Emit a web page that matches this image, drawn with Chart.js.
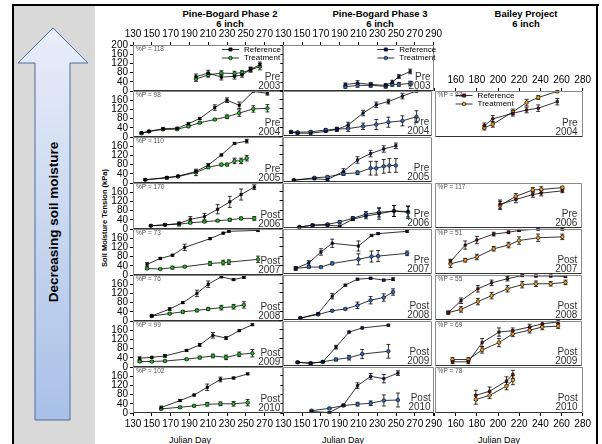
<!DOCTYPE html>
<html>
<head>
<meta charset="utf-8">
<script src="https://cdn.jsdelivr.net/npm/chart.js@4.4.0/dist/chart.umd.min.js"></script>
<style>
  body { margin: 0; background: #fff; width: 602px; height: 444px; overflow: hidden; position: relative; font-family: "Liberation Sans", Arial, sans-serif; }
  canvas { position: absolute; }
  svg { position: absolute; left: 0; top: 0; }
</style>
</head>
<body>
<svg width="602" height="444">
  <defs>
    <linearGradient id="arrowFill" x1="0" y1="0" x2="0" y2="1">
      <stop offset="0" stop-color="#e8eef9"/>
      <stop offset="1" stop-color="#a9c0e7"/>
    </linearGradient>
  </defs>
  <rect x="13" y="5" width="82" height="439" fill="#d9d9d9"/>
  <polygon points="53,28 88,63 70,63 70,420 35,420 35,63 18,63" fill="url(#arrowFill)" stroke="#4d6d9c" stroke-width="1"/>
  <text transform="translate(58,222) rotate(-90)" text-anchor="middle" font-weight="bold" font-size="13.5" font-family="Liberation Sans, Arial">Decreasing soil moisture</text>
  <text transform="translate(107,218) rotate(-90)" text-anchor="middle" font-weight="bold" font-size="7.5" font-family="Liberation Sans, Arial">Soil Moisture Tension (kPa)</text>
  <rect x="12" y="4" width="587" height="2" fill="#000"/>
  <rect x="12" y="4" width="2" height="440" fill="#000"/>
  <rect x="596" y="4" width="2" height="440" fill="#000"/>
  <g font-family="Liberation Sans, Arial" font-weight="bold" font-size="9.5" text-anchor="middle" dominant-baseline="central">
    <text x="230" y="13">Pine-Bogard Phase 2</text>
    <text x="230" y="23">6 inch</text>
    <text x="380" y="13">Pine-Bogard Phase 3</text>
    <text x="380" y="23">6 inch</text>
    <text x="526" y="13">Bailey Project</text>
    <text x="526" y="23">6 inch</text>
  </g>
  <g font-family="Liberation Sans, Arial" font-size="9" text-anchor="middle" dominant-baseline="central">
    <text x="190" y="440">Julian Day</text>
    <text x="343" y="440">Julian Day</text>
    <text x="499" y="440">Julian Day</text>
  </g>
</svg>
<script>
// tick labels
const xTicksPB = [130, 150, 170, 190, 210, 230, 250, 270, 290];
const xTicksBailey = [140, 160, 180, 200, 220, 240, 260, 280];
const yTicks = [0, 40, 80, 120, 160, 200];

// Pine-Bogard Phase 2 (Julian day, kPa, error)
const p2_2003_day = [197, 210, 224, 238, 246, 255, 265];
const p2_2003_ref = [62, 78, 60, 64, 70, 94, 114];
const p2_2003_trt = [52, 70, 78, 76, 80, 92, 106];
const p2_2003_refErr = [12, 12, 12, 12, 10, 10, 12];
const p2_2003_trtErr = [10, 10, 10, 10, 8, 10, 14];

const p2_2004_day = [139, 147, 162, 177, 189, 201, 217, 230, 243, 258, 273];
const p2_2004_ref = [18, 25, 36, 38, 58, 80, 128, 160, 138, 198, 190];
const p2_2004_trt = [16, 24, 33, 34, 46, 62, 76, 88, 104, 122, 125];
const p2_2004_refErr = [4, 4, 4, 4, 4, 4, 12, 10, 14, 0, 8];
const p2_2004_trtErr = [4, 4, 4, 4, 4, 4, 4, 8, 14, 14, 16];

const p2_2005_day = [143, 166, 178, 197, 210, 224, 230, 238, 245, 251];
const p2_2005_ref = [14, 24, 30, 50, 78, 122, null, 172, null, 182];
const p2_2005_trt = [14, 22, 28, 46, 68, 80, 80, 96, 96, 108];
const p2_2005_refErr = [3, 4, 4, 6, 6, 4, 0, 4, 0, 8];
const p2_2005_trtErr = [3, 4, 4, 14, 4, 6, 6, 12, 12, 12];

const p2_2006_day = [149, 164, 179, 191, 206, 220, 233, 245, 259];
const p2_2006_ref = [14, 18, 24, 42, 54, 86, 118, 150, 182];
const p2_2006_trt = [14, 18, 21, 27, 32, 36, 40, 46, 46];
const p2_2006_refErr = [3, 4, 6, 12, 14, 20, 24, 24, 10];
const p2_2006_trtErr = [3, 3, 8, 4, 4, 4, 6, 6, 8];

const p2_2007_day = [145, 159, 172, 185, 212, 226, 232, 263];
const p2_2007_ref = [46, 72, 86, 120, 158, 182, 190, 194];
const p2_2007_trt = [28, 26, 32, 36, 50, 54, 56, 68];
const p2_2007_refErr = [8, 4, 4, 14, 4, 4, 4, 4];
const p2_2007_trtErr = [4, 3, 6, 4, 8, 10, 10, 14];

const p2_2008_day = [150, 169, 183, 198, 210, 224, 237, 248];
const p2_2008_ref = [22, 52, 80, 120, 160, 192, 180, 190];
const p2_2008_trt = [22, 32, 40, 46, 52, 58, 62, 70];
const p2_2008_refErr = [4, 6, 4, 14, 14, 4, 4, 4];
const p2_2008_trtErr = [4, 4, 6, 6, 6, 10, 10, 14];

const p2_2009_day = [137, 150, 164, 187, 201, 215, 229, 243, 257];
const p2_2009_ref = [38, 42, 48, 72, 96, 138, 126, 158, 184];
const p2_2009_trt = [24, 24, 26, 34, 41, 48, 42, 55, 60];
const p2_2009_refErr = [6, 4, 6, 4, 6, 12, 6, 4, 4];
const p2_2009_trtErr = [4, 4, 4, 4, 6, 8, 10, 10, 16];

const p2_2010_day = [160, 180, 195, 209, 223, 237, 252];
const p2_2010_ref = [24, 54, 78, 112, 146, 152, 170];
const p2_2010_trt = [18, 25, 31, 38, 40, 40, 45];
const p2_2010_refErr = [6, 4, 4, 14, 10, 4, 4];
const p2_2010_trtErr = [4, 4, 4, 8, 8, 10, 14];

// Pine-Bogard Phase 3
const p3_2003_day = [196, 209, 223, 239, 246, 253, 265];
const p3_2003_ref = [30, 36, 30, 26, 40, 64, 86];
const p3_2003_trt = [20, 26, 26, 22, 30, 30, 34];
const p3_2003_refErr = [6, 10, 8, 8, 8, 8, 10];
const p3_2003_trtErr = [6, 8, 8, 8, 8, 8, 10];

const p3_2004_day = [139, 146, 160, 176, 188, 200, 216, 230, 243, 258, 273];
const p3_2004_ref = [18, 14, 14, 22, 30, 50, 102, 138, 152, 176, 198];
const p3_2004_trt = [20, 18, 20, 28, 32, 34, 44, 52, 62, 68, 86];
const p3_2004_refErr = [4, 4, 4, 4, 8, 12, 12, 12, 10, 12, 4];
const p3_2004_trtErr = [4, 4, 4, 6, 8, 12, 14, 22, 22, 22, 26];

const p3_2005_day = [142, 164, 178, 195, 210, 224, 230, 238, 244, 251];
const p3_2005_ref = [10, 16, 12, 48, 98, 126, null, 146, null, 160];
const p3_2005_trt = [10, 20, 24, 38, 42, 62, 62, 70, 74, 74];
const p3_2005_refErr = [3, 4, 4, 12, 14, 14, 0, 14, 0, 12];
const p3_2005_trtErr = [3, 4, 4, 8, 8, 30, 30, 30, 30, 30];

const p3_2006_day = [148, 162, 178, 191, 205, 219, 233, 249, 264];
const p3_2006_ref = [6, 14, 14, 10, 40, 54, 64, 76, 74];
const p3_2006_trt = [6, 14, 18, 28, 44, 62, 70, 76, 70];
const p3_2006_refErr = [3, 4, 4, 4, 6, 12, 24, 24, 24];
const p3_2006_trtErr = [3, 4, 4, 6, 8, 12, 20, 24, 26];

const p3_2007_day = [144, 158, 171, 183, 211, 225, 232, 263];
const p3_2007_ref = [26, 50, 98, 136, 124, 170, 178, 188];
const p3_2007_trt = [26, 32, 32, 48, 66, 78, 80, 92];
const p3_2007_refErr = [8, 10, 14, 18, 22, 4, 4, 4];
const p3_2007_trtErr = [6, 4, 4, 6, 24, 24, 24, 10];

const p3_2008_day = [149, 168, 183, 197, 210, 224, 238, 248];
const p3_2008_ref = [10, 30, 106, 154, 180, 184, 176, 180];
const p3_2008_trt = [10, 26, 42, 50, 66, 88, 100, 124];
const p3_2008_refErr = [4, 4, 12, 4, 4, 4, 4, 6];
const p3_2008_trtErr = [4, 4, 4, 4, 14, 16, 16, 14];

const p3_2009_day = [146, 160, 173, 187, 201, 215, 243];
const p3_2009_ref = [18, 14, 20, 84, 150, 168, 180];
const p3_2009_trt = [18, 14, 20, 30, 38, 54, 66];
const p3_2009_refErr = [4, 4, 4, 8, 4, 4, 4];
const p3_2009_trtErr = [4, 4, 4, 6, 10, 20, 30];

const p3_2010_day = [160, 179, 194, 209, 223, 237, 252];
const p3_2010_ref = [6, 2, 34, 118, 158, 148, 172];
const p3_2010_trt = [10, 20, 32, 38, 42, 54, 56];
const p3_2010_refErr = [4, 4, 4, 12, 12, 18, 10];
const p3_2010_trtErr = [4, 4, 4, 8, 10, 24, 30];

// Bailey Project
const bl_2004_day = [187, 195, 214, 227, 238, 256];
const bl_2004_ref = [50, 80, 104, 118, 126, 154];
const bl_2004_trt = [42, 56, 110, 150, 172, 198];
const bl_2004_refErr = [12, 14, 12, 12, 14, 14];
const bl_2004_trtErr = [10, 12, 12, 14, 8, 4];

const bl_2006_day = [202, 217, 233, 241, 261];
const bl_2006_ref = [106, 126, 148, 154, 164];
const bl_2006_trt = [100, 140, 168, 170, 178];
const bl_2006_refErr = [18, 14, 12, 12, 8];
const bl_2006_trtErr = [18, 12, 10, 12, 6];

const bl_2007_day = [155, 169, 180, 196, 210, 220, 238, 261];
const bl_2007_ref = [56, 128, 150, 176, 184, 192, 198, 198];
const bl_2007_trt = [46, 62, 76, 112, 128, 148, 160, 164];
const bl_2007_refErr = [10, 18, 16, 8, 6, 4, 4, 4];
const bl_2007_trtErr = [16, 8, 12, 10, 12, 16, 16, 12];

const bl_2008_day = [153, 165, 181, 194, 209, 223, 236, 250, 264];
const bl_2008_ref = [34, 86, 138, 164, 182, 196, 194, 194, 192];
const bl_2008_trt = [34, 48, 82, 108, 138, 156, 160, 160, 166];
const bl_2008_refErr = [6, 12, 14, 12, 10, 4, 4, 4, 4];
const bl_2008_trtErr = [6, 12, 14, 14, 14, 14, 12, 10, 10];

const bl_2009_day = [157, 172, 185, 201, 214, 230, 242, 257];
const bl_2009_ref = [20, 20, 104, 150, 156, 172, 186, 194];
const bl_2009_trt = [30, 30, 72, 104, 142, 158, 172, 176];
const bl_2009_refErr = [8, 8, 18, 18, 12, 12, 10, 8];
const bl_2009_trtErr = [8, 8, 14, 18, 12, 12, 12, 10];

const bl_2010_day = [179, 192, 208, 214];
const bl_2010_ref = [76, 94, 138, 166];
const bl_2010_trt = [58, 76, 116, 142];
const bl_2010_refErr = [22, 18, 18, 18];
const bl_2010_trtErr = [20, 14, 16, 20];

const panels = [
  { col: 0, row: 0, day: p2_2003_day, ref: p2_2003_ref, trt: p2_2003_trt, refErr: p2_2003_refErr, trtErr: p2_2003_trtErr, pct: '118', period: 'Pre', year: '2003', legend: true, top: true },
  { col: 0, row: 1, day: p2_2004_day, ref: p2_2004_ref, trt: p2_2004_trt, refErr: p2_2004_refErr, trtErr: p2_2004_trtErr, pct: '98', period: 'Pre', year: '2004' },
  { col: 0, row: 2, day: p2_2005_day, ref: p2_2005_ref, trt: p2_2005_trt, refErr: p2_2005_refErr, trtErr: p2_2005_trtErr, pct: '110', period: 'Pre', year: '2005' },
  { col: 0, row: 3, day: p2_2006_day, ref: p2_2006_ref, trt: p2_2006_trt, refErr: p2_2006_refErr, trtErr: p2_2006_trtErr, pct: '170', period: 'Post', year: '2006' },
  { col: 0, row: 4, day: p2_2007_day, ref: p2_2007_ref, trt: p2_2007_trt, refErr: p2_2007_refErr, trtErr: p2_2007_trtErr, pct: '73', period: 'Post', year: '2007' },
  { col: 0, row: 5, day: p2_2008_day, ref: p2_2008_ref, trt: p2_2008_trt, refErr: p2_2008_refErr, trtErr: p2_2008_trtErr, pct: '76', period: 'Post', year: '2008' },
  { col: 0, row: 6, day: p2_2009_day, ref: p2_2009_ref, trt: p2_2009_trt, refErr: p2_2009_refErr, trtErr: p2_2009_trtErr, pct: '99', period: 'Post', year: '2009' },
  { col: 0, row: 7, day: p2_2010_day, ref: p2_2010_ref, trt: p2_2010_trt, refErr: p2_2010_refErr, trtErr: p2_2010_trtErr, pct: '102', period: 'Post', year: '2010' },

  { col: 1, row: 0, day: p3_2003_day, ref: p3_2003_ref, trt: p3_2003_trt, refErr: p3_2003_refErr, trtErr: p3_2003_trtErr, period: 'Pre', year: '2003', legend: true, top: true },
  { col: 1, row: 1, day: p3_2004_day, ref: p3_2004_ref, trt: p3_2004_trt, refErr: p3_2004_refErr, trtErr: p3_2004_trtErr, period: 'Pre', year: '2004' },
  { col: 1, row: 2, day: p3_2005_day, ref: p3_2005_ref, trt: p3_2005_trt, refErr: p3_2005_refErr, trtErr: p3_2005_trtErr, period: 'Pre', year: '2005' },
  { col: 1, row: 3, day: p3_2006_day, ref: p3_2006_ref, trt: p3_2006_trt, refErr: p3_2006_refErr, trtErr: p3_2006_trtErr, period: 'Pre', year: '2006' },
  { col: 1, row: 4, day: p3_2007_day, ref: p3_2007_ref, trt: p3_2007_trt, refErr: p3_2007_refErr, trtErr: p3_2007_trtErr, period: 'Pre', year: '2007' },
  { col: 1, row: 5, day: p3_2008_day, ref: p3_2008_ref, trt: p3_2008_trt, refErr: p3_2008_refErr, trtErr: p3_2008_trtErr, period: 'Post', year: '2008' },
  { col: 1, row: 6, day: p3_2009_day, ref: p3_2009_ref, trt: p3_2009_trt, refErr: p3_2009_refErr, trtErr: p3_2009_trtErr, period: 'Post', year: '2009' },
  { col: 1, row: 7, day: p3_2010_day, ref: p3_2010_ref, trt: p3_2010_trt, refErr: p3_2010_refErr, trtErr: p3_2010_trtErr, period: 'Post', year: '2010' },

  { col: 2, row: 1, day: bl_2004_day, ref: bl_2004_ref, trt: bl_2004_trt, refErr: bl_2004_refErr, trtErr: bl_2004_trtErr, pct: '93', period: 'Pre', year: '2004', legend: true, top: true },
  { col: 2, row: 3, day: bl_2006_day, ref: bl_2006_ref, trt: bl_2006_trt, refErr: bl_2006_refErr, trtErr: bl_2006_trtErr, pct: '117', period: 'Pre', year: '2006' },
  { col: 2, row: 4, day: bl_2007_day, ref: bl_2007_ref, trt: bl_2007_trt, refErr: bl_2007_refErr, trtErr: bl_2007_trtErr, pct: '51', period: 'Post', year: '2007' },
  { col: 2, row: 5, day: bl_2008_day, ref: bl_2008_ref, trt: bl_2008_trt, refErr: bl_2008_refErr, trtErr: bl_2008_trtErr, pct: '55', period: 'Post', year: '2008' },
  { col: 2, row: 6, day: bl_2009_day, ref: bl_2009_ref, trt: bl_2009_trt, refErr: bl_2009_refErr, trtErr: bl_2009_trtErr, pct: '69', period: 'Post', year: '2009' },
  { col: 2, row: 7, day: bl_2010_day, ref: bl_2010_ref, trt: bl_2010_trt, refErr: bl_2010_refErr, trtErr: bl_2010_trtErr, pct: '78', period: 'Post', year: '2010' }
];

// layout of the grid of panels
const colLeft = [133, 283, 435];
const colWidth = [150, 150, 148];
const rowTop0 = 45, rowStep = 46, rowH = 46;
const FONT = '"Liberation Sans", Arial, sans-serif';
const colStyle = [
  { ref: '#000000', trt: '#1fb81f', xTicks: xTicksPB, min: 130, max: 290, hide: [290], legendX: 89, yearPad: 3 },
  { ref: '#0b1760', trt: '#2d6cc6', xTicks: xTicksPB, min: 130, max: 290, hide: [], legendX: 94, yearPad: 3 },
  { ref: '#7a0a0a', trt: '#f49a1c', xTicks: xTicksBailey, min: 140, max: 280, hide: [140], legendX: 21, yearPad: 5 }
];

function pts(days, vals, errs) {
  const out = [];
  days.forEach((d, i) => {
    if (vals[i] !== null) out.push({ x: d, y: vals[i], e: errs[i] || 0 });
  });
  return out;
}

// vertical error bars, drawn under the markers
const errorBars = {
  id: 'errorBars',
  beforeDatasetsDraw(chart) {
    const ctx = chart.ctx, ys = chart.scales.y, a = chart.chartArea;
    ctx.save();
    ctx.beginPath();
    ctx.rect(a.left - 3, a.top - 1, a.right - a.left + 6, a.bottom - a.top + 2);
    ctx.clip();
    ctx.strokeStyle = '#000';
    ctx.lineWidth = 0.8;
    chart.data.datasets.forEach((ds, di) => {
      const meta = chart.getDatasetMeta(di);
      ds.data.forEach((p, i) => {
        if (!p.e) return;
        const x = meta.data[i].x;
        const y1 = ys.getPixelForValue(p.y - p.e);
        const y2 = ys.getPixelForValue(p.y + p.e);
        ctx.beginPath();
        ctx.moveTo(x, y1); ctx.lineTo(x, y2);
        ctx.moveTo(x - 2, y1); ctx.lineTo(x + 2, y1);
        ctx.moveTo(x - 2, y2); ctx.lineTo(x + 2, y2);
        ctx.stroke();
      });
    });
    ctx.restore();
  }
};

// panel frame, %P note, Pre/Post label and legend
const panelDeco = {
  id: 'panelDeco',
  afterDraw(chart, args, opts) {
    const ctx = chart.ctx, a = chart.chartArea;
    const L = Math.round(a.left) + 0.5, R = Math.round(a.right) - 0.5;
    const T = Math.round(a.top) + 0.5, B = Math.round(a.bottom) - 0.5;
    ctx.save();
    ctx.lineWidth = 1;
    ctx.strokeStyle = '#8a8a8a';
    ctx.beginPath();
    ctx.moveTo(L, B); ctx.lineTo(L, T); ctx.lineTo(R, T); ctx.lineTo(R, B);
    ctx.stroke();
    ctx.strokeStyle = '#333';
    ctx.beginPath();
    ctx.moveTo(L, B); ctx.lineTo(R, B);
    ctx.stroke();

    if (opts.pct) {
      ctx.fillStyle = '#555';
      ctx.font = '6.5px ' + FONT;
      ctx.textAlign = 'left';
      ctx.textBaseline = 'middle';
      ctx.fillText('%P = ' + opts.pct, a.left + 3, a.top + 4.5);
    }

    ctx.fillStyle = '#333';
    ctx.font = '10px ' + FONT;
    ctx.textAlign = 'right';
    ctx.textBaseline = 'middle';
    ctx.fillText(opts.period, a.right - opts.yearPad, a.top + 32);
    ctx.fillText(opts.year, a.right - opts.yearPad, a.top + 41);

    if (opts.legend) {
      chart.data.datasets.forEach((ds, i) => {
        const y = a.top + 4.5 + i * 8.5;
        const x0 = a.left + opts.legendX, x1 = x0 + 17, xm = (x0 + x1) / 2;
        ctx.strokeStyle = '#000';
        ctx.lineWidth = 0.8;
        ctx.beginPath();
        ctx.moveTo(x0, y); ctx.lineTo(x1, y);
        ctx.stroke();
        ctx.fillStyle = ds.pointBackgroundColor;
        ctx.lineWidth = 0.6;
        ctx.beginPath();
        if (ds.pointStyle === 'rect') ctx.rect(xm - 1.6, y - 1.6, 3.2, 3.2);
        else ctx.arc(xm, y, 1.8, 0, Math.PI * 2);
        ctx.fill();
        ctx.stroke();
        ctx.fillStyle = '#000';
        ctx.font = '8px ' + FONT;
        ctx.textAlign = 'left';
        ctx.fillText(ds.label, x1 + 5, y);
      });
    }
    ctx.restore();
  }
};

function buildPanel(p, w, h, padL, padT, padB, padR) {
  const st = colStyle[p.col];
  const bottom = p.row === 7;
  const showX = p.top || bottom;
  const xPos = p.top ? 'top' : 'bottom';

  const cv = document.createElement('canvas');
  cv.width = w;
  cv.height = h;
  document.body.appendChild(cv);

  const chart = new Chart(cv, {
    type: 'line',
    data: {
      datasets: [
        {
          label: 'Reference',
          data: pts(p.day, p.ref, p.refErr),
          borderColor: '#000', borderWidth: 0.8, tension: 0,
          pointStyle: 'rect', pointRadius: 1.7, pointBackgroundColor: st.ref,
          pointBorderColor: '#000', pointBorderWidth: 0.6
        },
        {
          label: 'Treatment',
          data: pts(p.day, p.trt, p.trtErr),
          borderColor: '#000', borderWidth: 0.8, tension: 0,
          pointStyle: 'circle', pointRadius: 1.8, pointBackgroundColor: st.trt,
          pointBorderColor: '#000', pointBorderWidth: 0.6
        }
      ]
    },
    options: {
      responsive: false,
      maintainAspectRatio: false,
      animation: false,
      devicePixelRatio: 1,
      events: [],
      layout: {
        padding: {
          left: 0, right: padR,
          top: xPos === 'top' ? 0 : padT,
          bottom: xPos === 'bottom' ? 0 : padB
        }
      },
      scales: {
        x: {
          type: 'linear', min: st.min, max: st.max, position: xPos,
          afterBuildTicks: s => { s.ticks = st.xTicks.map(v => ({ value: v })); },
          afterFit: s => { s.height = xPos === 'top' ? padT : padB; },
          grid: { drawOnChartArea: false, drawTicks: showX, tickLength: 3, color: '#000' },
          border: { display: false },
          ticks: {
            display: showX, autoSkip: false, maxRotation: 0, padding: 2, color: '#000',
            font: { size: 10, family: FONT },
            callback: v => st.hide.includes(v) ? '' : v
          }
        },
        y: {
          min: 0, max: 200,
          afterBuildTicks: s => { s.ticks = yTicks.map(v => ({ value: v })); },
          afterFit: s => { s.width = padL; },
          grid: { drawOnChartArea: false, drawTicks: p.col !== 2, tickLength: 3, color: '#000' },
          border: { display: false },
          ticks: {
            display: p.col === 0, autoSkip: false, padding: 2, color: '#000',
            font: { size: 10, family: FONT },
            callback: v => (v === 200 && p.row !== 0) ? '' : v
          }
        }
      },
      plugins: {
        legend: { display: false },
        tooltip: { enabled: false },
        panelDeco: {
          pct: p.pct || '', period: p.period, year: p.year,
          legend: !!p.legend, legendX: st.legendX, yearPad: st.yearPad
        }
      }
    },
    plugins: [errorBars, panelDeco]
  });
  return { cv, chart };
}

panels.forEach(p => {
  const padL = p.col === 0 ? 40 : 4;
  const padR = 4;
  const padT = p.top ? 20 : 2;
  const padB = p.row === 7 ? 20 : 2;
  const boxLeft = colLeft[p.col];
  const boxTop = rowTop0 + rowStep * p.row;
  const boxW = colWidth[p.col];
  let w = boxW + padL + padR;
  let h = rowH + padT + padB;

  // first pass: measure how much room the library keeps round the plot area
  let built = buildPanel(p, w, h, padL, padT, padB, padR);
  let a = built.chart.chartArea;
  const dw = boxW - (a.right - a.left);
  const dh = rowH - (a.bottom - a.top);
  if (Math.abs(dw) > 0.5 || Math.abs(dh) > 0.5) {
    built.chart.destroy();
    built.cv.remove();
    w = Math.round(w + dw);
    h = Math.round(h + dh);
    built = buildPanel(p, w, h, padL, padT, padB, padR);
    a = built.chart.chartArea;
  }
  built.cv.style.left = Math.round(boxLeft - a.left) + 'px';
  built.cv.style.top = Math.round(boxTop - a.top) + 'px';
});
</script>
</body>
</html>
